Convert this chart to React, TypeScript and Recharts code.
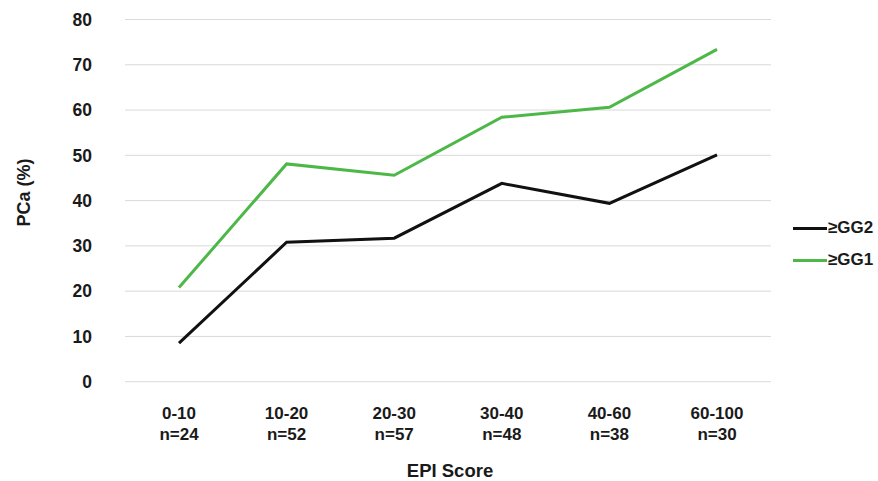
import React from 'react';
import { LineChart, Line, XAxis, YAxis, CartesianGrid, Legend } from 'recharts';

// EPI score bins and group sizes
const ranges = ['0-10', '10-20', '20-30', '30-40', '40-60', '60-100'];
const counts = [24, 52, 57, 48, 38, 30];

// PCa detection rate (%) per bin
const gg2 = [8.5, 30.8, 31.7, 43.8, 39.4, 50.1];
const gg1 = [20.8, 48.1, 45.6, 58.4, 60.6, 73.4];

const yTicks = [0, 10, 20, 30, 40, 50, 60, 70, 80];
const legendOrder = ['≥GG2', '≥GG1'];

const data = ranges.map((r, i) => ({ range: r, n: counts[i], gg2: gg2[i], gg1: gg1[i] }));

const FONT = '"Liberation Sans", Arial, sans-serif';
const TEXT = '#1a1a1a';

const XTick = ({ x, y, payload, index }: any) => (
  <text x={x} y={y} textAnchor="middle" fontFamily={FONT} fontWeight="bold" fontSize={17} fill={TEXT}>
    <tspan x={x} dy={29}>{payload.value}</tspan>
    <tspan x={x} dy={21.3}>n={counts[index]}</tspan>
  </text>
);

const LegendBox = ({ payload }: any) => {
  const items = [...(payload || [])].sort(
    (a: any, b: any) => legendOrder.indexOf(a.value) - legendOrder.indexOf(b.value)
  );
  return (
    <div style={{ fontFamily: FONT, fontWeight: 'bold', fontSize: 17, color: TEXT }}>
      {items.map((item: any) => (
        <div key={item.value} style={{ display: 'flex', alignItems: 'center', height: 32 }}>
          <span style={{ display: 'inline-block', width: 34, height: 3, background: item.color, marginRight: 1 }} />
          <span>{item.value}</span>
        </div>
      ))}
    </div>
  );
};

export default function App() {
  return (
    <div>
      <style>{`body{margin:0}`}</style>
      <LineChart width={878} height={481} data={data} margin={{ top: 19.5, right: 107, bottom: 0, left: 0 }}>
        <CartesianGrid vertical={false} stroke="#d9d9d9" strokeWidth={1} />
        <XAxis
          dataKey="range"
          height={99.3}
          axisLine={false}
          tickLine={false}
          interval={0}
          padding={{ left: 54, right: 54 }}
          tick={<XTick />}
          label={() => (
            <text x={450} y={476.5} textAnchor="middle" fontFamily={FONT} fontWeight="bold" fontSize={18.5} fill={TEXT}>
              EPI Score
            </text>
          )}
        />
        <YAxis
          width={125}
          domain={[0, 80]}
          ticks={yTicks}
          axisLine={false}
          tickLine={false}
          tickSize={0}
          tickMargin={33}
          tick={{ fontFamily: FONT, fontWeight: 'bold', fontSize: 17.5, fill: TEXT }}
          label={() => (
            <text
              x={30}
              y={192.5}
              transform="rotate(-90, 30, 192.5)"
              textAnchor="middle"
              fontFamily={FONT}
              fontWeight="bold"
              fontSize={18}
              fill={TEXT}
            >
              PCa (%)
            </text>
          )}
        />
        <Legend
          layout="horizontal"
          verticalAlign="middle"
          align="center"
          content={<LegendBox />}
          wrapperStyle={{ left: 793, top: 212, width: 85 }}
        />
        <Line name="≥GG2" dataKey="gg2" stroke="#111111" strokeWidth={3} dot={false} isAnimationActive={false} />
        <Line name="≥GG1" dataKey="gg1" stroke="#4db848" strokeWidth={3} dot={false} isAnimationActive={false} />
      </LineChart>
    </div>
  );
}
